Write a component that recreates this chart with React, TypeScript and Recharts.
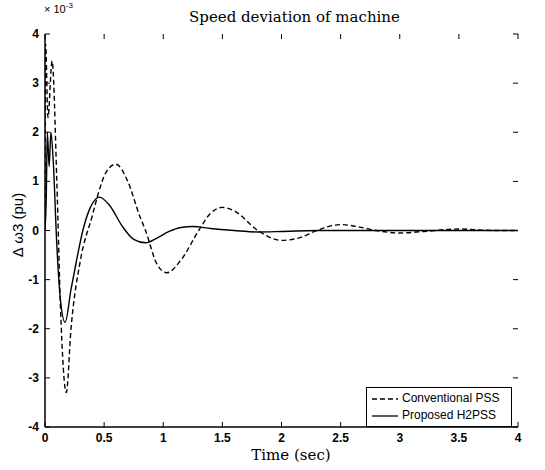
import { LineChart, Line, XAxis, YAxis } from "recharts";

// time (sec) and speed deviation (x 10^-3 pu)
const convTime = [0, 0.005, 0.025, 0.06, 0.1, 0.13, 0.18, 0.22, 0.3, 0.4, 0.45, 0.52, 0.6, 0.7, 0.8, 0.85, 0.95, 1.03, 1.15, 1.3, 1.4, 1.5, 1.6, 1.8, 2.0, 2.15, 2.3, 2.5, 2.7, 2.8, 3.0, 3.2, 3.5, 3.8, 4];
const convValue = [0, 3.8, 2.3, 3.45, 1.0, -1.5, -3.3, -2.0, -0.6, 0.3, 0.75, 1.2, 1.35, 1.0, 0.3, 0, -0.7, -0.86, -0.6, 0, 0.35, 0.47, 0.4, 0, -0.2, -0.15, 0, 0.12, 0.05, 0, -0.05, -0.02, 0.03, 0, 0];

const h2Time = [0, 0.01, 0.02, 0.035, 0.05, 0.07, 0.1, 0.13, 0.17, 0.22, 0.27, 0.32, 0.38, 0.46, 0.55, 0.65, 0.75, 0.85, 0.95, 1.05, 1.15, 1.25, 1.4, 1.6, 1.8, 2.0, 2.3, 4];
const h2Value = [0, 0.6, 2.0, 1.3, 2.0, 1.4, -0.3, -1.4, -1.87, -1.2, -0.57, 0, 0.45, 0.68, 0.5, 0.1, -0.18, -0.25, -0.15, -0.02, 0.06, 0.08, 0.04, 0, -0.03, -0.02, 0, 0];

const xTicks = [0, 0.5, 1, 1.5, 2, 2.5, 3, 3.5, 4];
const xTickLabels = ["0", "0.5", "1", "1.5", "2", "2.5", "3", "3.5", "4"];
const yTicks = [-4, -3, -2, -1, 0, 1, 2, 3, 4];

const convData = convTime.map((t, i) => ({ t, v: convValue[i] }));
const h2Data = h2Time.map((t, i) => ({ t, v: h2Value[i] }));

const W = 545;
const H = 470;
const TOP = 34;
const LEFT = 45;
const RIGHT = 518;
const BOTTOM = 427;
const serif = "DejaVu Serif, Liberation Serif, serif";
const sans = "Liberation Sans, Arial, sans-serif";
const tickFont = { fontFamily: sans, fontSize: 12, fontWeight: 700 };

const XTick = (props: any) => {
  const { x, payload, index } = props;
  return (
    <g>
      <line x1={x} x2={x} y1={BOTTOM} y2={BOTTOM - 5} stroke="#000" />
      <line x1={x} x2={x} y1={TOP} y2={TOP + 5} stroke="#000" />
      <text x={x} y={BOTTOM + 15} textAnchor="middle" {...tickFont}>
        {xTickLabels[index] ?? payload.value}
      </text>
    </g>
  );
};

const YTick = (props: any) => {
  const { y, payload } = props;
  return (
    <g>
      <line x1={LEFT} x2={LEFT + 5} y1={y} y2={y} stroke="#000" />
      <line x1={RIGHT} x2={RIGHT - 5} y1={y} y2={y} stroke="#000" />
      <text x={LEFT - 6} y={y + 4} textAnchor="end" {...tickFont}>
        {String(payload.value)}
      </text>
    </g>
  );
};

export default function App() {
  return (
    <div style={{ position: "absolute", left: 0, top: 0, width: W, height: H, background: "#fff" }}>
      <LineChart width={W} height={H} margin={{ top: TOP, right: W - RIGHT, bottom: 0, left: 0 }}>
        <XAxis
          dataKey="t"
          type="number"
          domain={[0, 4]}
          ticks={xTicks}
          height={H - BOTTOM}
          tickLine={false}
          tick={<XTick />}
          axisLine={{ stroke: "#000", strokeWidth: 1.5 }}
          allowDataOverflow
        />
        <XAxis
          xAxisId="top"
          orientation="top"
          dataKey="t"
          type="number"
          domain={[0, 4]}
          height={0}
          tick={false}
          tickLine={false}
          axisLine={{ stroke: "#000", strokeWidth: 1.5 }}
        />
        <YAxis
          dataKey="v"
          type="number"
          domain={[-4, 4]}
          ticks={yTicks}
          width={LEFT}
          tickLine={false}
          tick={<YTick />}
          axisLine={{ stroke: "#000", strokeWidth: 1.5 }}
          allowDataOverflow
        />
        <YAxis
          yAxisId="right"
          orientation="right"
          domain={[-4, 4]}
          width={0}
          tick={false}
          tickLine={false}
          axisLine={{ stroke: "#000", strokeWidth: 1.5 }}
        />
        <Line
          data={convData}
          dataKey="v"
          type="monotone"
          stroke="#000"
          strokeWidth={1.4}
          strokeDasharray="5 3"
          dot={false}
          isAnimationActive={false}
        />
        <Line
          data={h2Data}
          dataKey="v"
          type="monotone"
          stroke="#000"
          strokeWidth={1.4}
          dot={false}
          isAnimationActive={false}
        />
      </LineChart>
      <div
        style={{
          position: "absolute",
          left: 366,
          top: 387,
          width: 146,
          height: 40,
          border: "1.5px solid #000",
          background: "#fff",
          boxSizing: "border-box",
          fontFamily: sans,
          fontSize: 12,
          lineHeight: "17px",
          padding: "2px 0 0 5px",
        }}
      >
        <div style={{ display: "flex", alignItems: "center" }}>
          <svg width={26} height={6}>
            <line x1={0} x2={26} y1={3} y2={3} stroke="#000" strokeWidth={1.3} strokeDasharray="5 3" />
          </svg>
          <span style={{ marginLeft: 4 }}>Conventional PSS</span>
        </div>
        <div style={{ display: "flex", alignItems: "center" }}>
          <svg width={26} height={6}>
            <line x1={0} x2={26} y1={3} y2={3} stroke="#000" strokeWidth={1.3} />
          </svg>
          <span style={{ marginLeft: 4 }}>Proposed H2PSS</span>
        </div>
      </div>
      <div
        style={{
          position: "absolute",
          left: 189,
          width: 200,
          top: 8,
          textAlign: "center",
          whiteSpace: "nowrap",
          fontFamily: serif,
          fontSize: 15,
        }}
      >
        Speed deviation of machine
      </div>
      <div style={{ position: "absolute", left: 44, top: 1, fontFamily: sans, fontSize: 11 }}>
        × 10<sup style={{ fontSize: 8 }}>-3</sup>
      </div>
      <div
        style={{
          position: "absolute",
          left: 191,
          width: 200,
          top: 446,
          textAlign: "center",
          fontFamily: serif,
          fontSize: 15,
        }}
      >
        Time (sec)
      </div>
      <div
        style={{
          position: "absolute",
          left: 17,
          top: 225,
          transform: "translate(-50%, -50%) rotate(-90deg)",
          whiteSpace: "nowrap",
          fontFamily: sans,
          fontSize: 15,
        }}
      >
        Δ ω3 (pu)
      </div>
    </div>
  );
}
